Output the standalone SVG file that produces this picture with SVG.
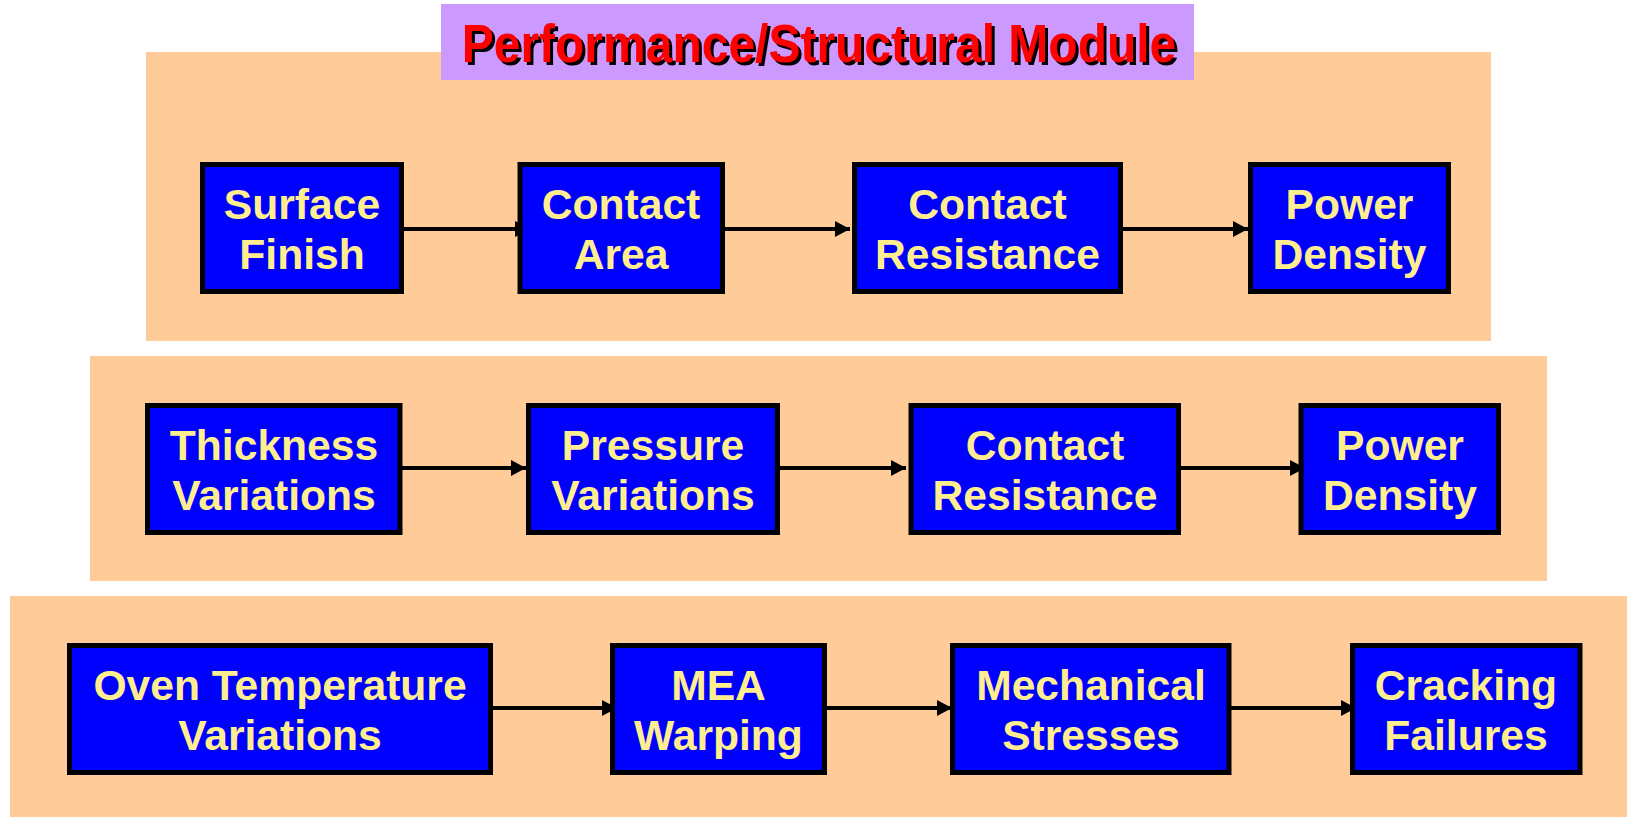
<svg xmlns="http://www.w3.org/2000/svg" width="1632" height="817" viewBox="0 0 1632 817">
<style>
.band{fill:#FFCC99}
.box{fill:#0000FF;stroke:#000;stroke-width:5}
.lbl{font-family:"Liberation Sans",Arial,sans-serif;font-weight:bold;font-size:42.6px;fill:#FFEE90;text-anchor:middle}
.title{font-family:"Liberation Sans",Arial,sans-serif;font-weight:bold;font-size:48px;text-anchor:middle}
.conn{stroke:#000;stroke-width:4;fill:none;marker-end:url(#ah)}
</style>
<defs>
<marker id="ah" markerUnits="userSpaceOnUse" markerWidth="16" markerHeight="17" refX="15" refY="8.5" orient="auto">
<polygon points="0,0.5 15,8.5 0,16.5" fill="#000"/>
</marker>
</defs>
<rect width="1632" height="817" fill="#fff"/>
<g id="bands">
<rect class="band" x="146" y="52" width="1345" height="289"/>
<rect class="band" x="90" y="356" width="1457" height="225"/>
<rect class="band" x="10" y="596" width="1617" height="221"/>
</g>
<g id="title">
<rect x="441" y="4" width="753" height="76" fill="#CC99FF"/>
<text class="title" x="822" y="65" fill="#000" transform="translate(0,-6.5) scale(1,1.1)">Performance/Structural Module</text>
<text class="title" x="819" y="62" fill="#FF0000" transform="translate(0,-6.2) scale(1,1.1)">Performance/Structural Module</text>
</g>
<g id="connectors">
<line class="conn" x1="404" y1="229" x2="530" y2="229"/>
<line class="conn" x1="725" y1="229" x2="850" y2="229"/>
<line class="conn" x1="1123" y1="229" x2="1248" y2="229"/>
<line class="conn" x1="402" y1="468" x2="526" y2="468"/>
<line class="conn" x1="780" y1="468" x2="906" y2="468"/>
<line class="conn" x1="1181" y1="468" x2="1305" y2="468"/>
<line class="conn" x1="493" y1="708" x2="617" y2="708"/>
<line class="conn" x1="827" y1="708" x2="952" y2="708"/>
<line class="conn" x1="1231" y1="708" x2="1356" y2="708"/>
</g>
<g id="surface-finish">
<rect class="box" x="202.5" y="164.5" width="199" height="127"/>
<text class="lbl" x="302" y="218.5">Surface</text>
<text class="lbl" x="302" y="268.5">Finish</text>
</g>
<g id="contact-area">
<rect class="box" x="520" y="164.5" width="202.5" height="127"/>
<text class="lbl" x="621" y="218.5">Contact</text>
<text class="lbl" x="621" y="268.5">Area</text>
</g>
<g id="contact-resistance-1">
<rect class="box" x="854.5" y="164.5" width="266" height="127"/>
<text class="lbl" x="987.5" y="218.5">Contact</text>
<text class="lbl" x="987.5" y="268.5">Resistance</text>
</g>
<g id="power-density-1">
<rect class="box" x="1250.5" y="164.5" width="198" height="127"/>
<text class="lbl" x="1349.5" y="218.5">Power</text>
<text class="lbl" x="1349.5" y="268.5">Density</text>
</g>
<g id="thickness-variations">
<rect class="box" x="147.5" y="405.5" width="252.5" height="127"/>
<text class="lbl" x="274" y="459.5">Thickness</text>
<text class="lbl" x="274" y="509.5">Variations</text>
</g>
<g id="pressure-variations">
<rect class="box" x="528.5" y="405.5" width="249" height="127"/>
<text class="lbl" x="653" y="459.5">Pressure</text>
<text class="lbl" x="653" y="509.5">Variations</text>
</g>
<g id="contact-resistance-2">
<rect class="box" x="911" y="405.5" width="267.5" height="127"/>
<text class="lbl" x="1045" y="459.5">Contact</text>
<text class="lbl" x="1045" y="509.5">Resistance</text>
</g>
<g id="power-density-2">
<rect class="box" x="1301" y="405.5" width="197.5" height="127"/>
<text class="lbl" x="1400" y="459.5">Power</text>
<text class="lbl" x="1400" y="509.5">Density</text>
</g>
<g id="oven-temperature-variations">
<rect class="box" x="69.5" y="645.5" width="421" height="127"/>
<text class="lbl" x="280" y="699.5">Oven Temperature</text>
<text class="lbl" x="280" y="749.5">Variations</text>
</g>
<g id="mea-warping">
<rect class="box" x="612.5" y="645.5" width="212" height="127"/>
<text class="lbl" x="718.5" y="699.5">MEA</text>
<text class="lbl" x="718.5" y="749.5">Warping</text>
</g>
<g id="mechanical-stresses">
<rect class="box" x="952.5" y="645.5" width="276.5" height="127"/>
<text class="lbl" x="1091" y="699.5">Mechanical</text>
<text class="lbl" x="1091" y="749.5">Stresses</text>
</g>
<g id="cracking-failures">
<rect class="box" x="1352.5" y="645.5" width="227.5" height="127"/>
<text class="lbl" x="1466" y="699.5">Cracking</text>
<text class="lbl" x="1466" y="749.5">Failures</text>
</g>
</svg>
